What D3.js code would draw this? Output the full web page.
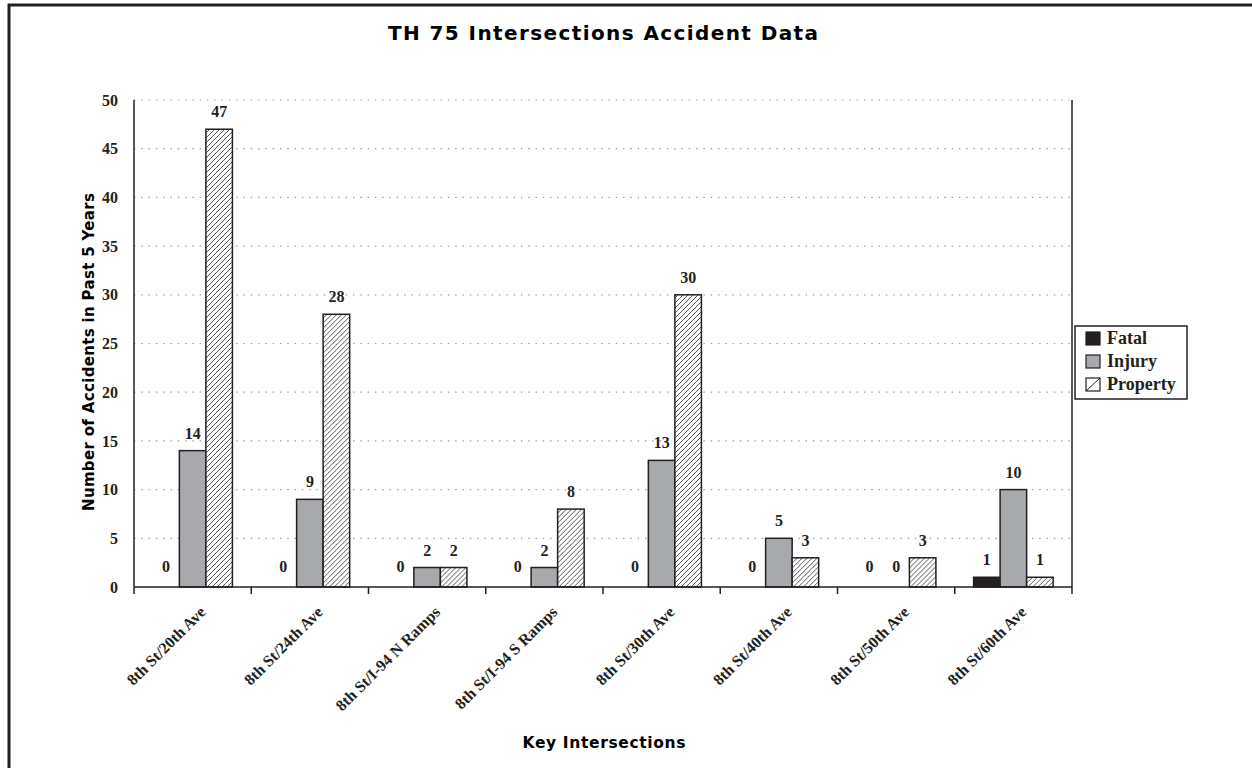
<!DOCTYPE html>
<html>
<head>
<meta charset="utf-8">
<script src="https://cdn.jsdelivr.net/npm/d3@7"></script>
<style>
  html, body { margin: 0; padding: 0; background: #fff; }
  svg { display: block; }
</style>
</head>
<body>
<svg id="chart" width="1252" height="768"></svg>
<script>
const categories = ["8th St/20th Ave", "8th St/24th Ave", "8th St/I-94 N Ramps", "8th St/I-94 S Ramps",
                    "8th St/30th Ave", "8th St/40th Ave", "8th St/50th Ave", "8th St/60th Ave"];
const seriesNames = ["Fatal", "Injury", "Property"];
const fatal    = [0, 0, 0, 0, 0, 0, 0, 1];
const injury   = [14, 9, 2, 2, 13, 5, 0, 10];
const property = [47, 28, 2, 8, 30, 3, 3, 1];
const yTicks = [0, 5, 10, 15, 20, 25, 30, 35, 40, 45, 50];
const chartTitle = "TH 75 Intersections Accident Data";
const yTitle = "Number of Accidents in Past 5 Years";
const xTitle = "Key Intersections";

const seriesValues = { Fatal: fatal, Injury: injury, Property: property };

const svg = d3.select("#chart");
const W = 1252, H = 768;
const plot = { left: 134, right: 1072, top: 100, bottom: 587 };
const dark = "#231f20";
const serif = "'Liberation Serif', 'Times New Roman', serif";
const heavy = "'DejaVu Sans', Verdana, sans-serif";

// hatch pattern
const defs = svg.append("defs");
const pat = defs.append("pattern").attr("id", "hatch")
  .attr("patternUnits", "userSpaceOnUse").attr("width", 5).attr("height", 5);
pat.append("rect").attr("width", 5).attr("height", 5).attr("fill", "#fff");
pat.append("path").attr("d", "M-1,1 L1,-1 M0,5 L5,0 M4,6 L6,4")
  .attr("stroke", dark).attr("stroke-width", 0.75);

const fills = { Fatal: dark, Injury: "#a7a9ac", Property: "url(#hatch)" };

// page frame
svg.append("path").attr("d", `M9,${H + 5} V5 H${W + 5}`)
  .attr("fill", "none").attr("stroke", dark).attr("stroke-width", 3);

// scales
const x = d3.scaleBand().domain(categories).range([plot.left, plot.right]).paddingInner(0).paddingOuter(0);
const xs = d3.scaleBand().domain(seriesNames).range([0, x.bandwidth()]).paddingInner(0).paddingOuter(0.71);
const y = d3.scaleLinear().domain([0, 50]).range([plot.bottom, plot.top]);

// gridlines
svg.append("g").selectAll("line").data(yTicks.filter(d => d > 0)).join("line")
  .attr("x1", plot.left).attr("x2", plot.right)
  .attr("y1", d => y(d)).attr("y2", d => y(d))
  .attr("stroke", "#9a9a9a").attr("stroke-width", 1.2)
  .attr("stroke-dasharray", "1.4,5.9");

// y tick labels
svg.append("g").selectAll("text").data(yTicks).join("text")
  .attr("x", 118).attr("y", d => y(d)).attr("dy", "0.35em")
  .attr("text-anchor", "end")
  .attr("font-family", serif).attr("font-weight", "bold").attr("font-size", 16)
  .attr("fill", dark)
  .text(d => d);

// bars
const groups = svg.append("g").selectAll("g").data(categories).join("g")
  .attr("transform", d => `translate(${x(d)},0)`);

groups.each(function (cat, i) {
  const g = d3.select(this);
  seriesNames.forEach(s => {
    const v = seriesValues[s][i];
    if (v > 0) {
      g.append("rect")
        .attr("x", xs(s)).attr("width", xs.bandwidth())
        .attr("y", y(v)).attr("height", y(0) - y(v))
        .attr("fill", fills[s]).attr("stroke", dark).attr("stroke-width", 1.5);
    }
    g.append("text")
      .attr("x", xs(s) + xs.bandwidth() / 2)
      .attr("y", y(v) - (v > 0 ? 12 : 15))
      .attr("text-anchor", "middle")
      .attr("font-family", serif).attr("font-weight", "bold").attr("font-size", 16)
      .attr("fill", dark)
      .text(v);
  });
});

// axes lines
svg.append("line").attr("x1", plot.left).attr("x2", plot.left)
  .attr("y1", plot.top).attr("y2", plot.bottom + 7)
  .attr("stroke", dark).attr("stroke-width", 1.5);
svg.append("line").attr("x1", plot.right).attr("x2", plot.right)
  .attr("y1", plot.top).attr("y2", plot.bottom + 7)
  .attr("stroke", dark).attr("stroke-width", 1.5);
svg.append("line").attr("x1", plot.left).attr("x2", plot.right)
  .attr("y1", plot.bottom).attr("y2", plot.bottom)
  .attr("stroke", dark).attr("stroke-width", 1.5);
// category boundary ticks
svg.append("g").selectAll("line").data(categories.slice(1)).join("line")
  .attr("x1", d => x(d)).attr("x2", d => x(d))
  .attr("y1", plot.bottom).attr("y2", plot.bottom + 7)
  .attr("stroke", dark).attr("stroke-width", 1.5);

// category labels
svg.append("g").selectAll("text").data(categories).join("text")
  .attr("transform", d => `translate(${x(d) + x.bandwidth() / 2 + 14},${plot.bottom + 26}) rotate(-45)`)
  .attr("text-anchor", "end")
  .attr("font-family", serif).attr("font-weight", "bold").attr("font-size", 16)
  .attr("fill", dark)
  .text(d => d);

// titles
svg.append("text").attr("x", 603).attr("y", 40).attr("text-anchor", "middle")
  .attr("font-family", heavy).attr("font-weight", "bold").attr("font-size", 20)
  .attr("textLength", 430).attr("lengthAdjust", "spacing")
  .attr("fill", "#000").text(chartTitle);

svg.append("text").attr("x", 604).attr("y", 748).attr("text-anchor", "middle")
  .attr("font-family", heavy).attr("font-weight", "bold").attr("font-size", 15.5)
  .attr("textLength", 163).attr("lengthAdjust", "spacing")
  .attr("fill", "#000").text(xTitle);

svg.append("text").attr("transform", `translate(94,352) rotate(-90)`)
  .attr("text-anchor", "middle")
  .attr("font-family", heavy).attr("font-weight", "bold").attr("font-size", 15)
  .attr("textLength", 318).attr("lengthAdjust", "spacing")
  .attr("fill", "#000").text(yTitle);

// legend
const lg = svg.append("g").attr("transform", "translate(1075,326)");
lg.append("rect").attr("x", 0).attr("y", 0).attr("width", 112).attr("height", 73)
  .attr("fill", "#fff").attr("stroke", dark).attr("stroke-width", 1.5);
const rows = lg.selectAll("g").data(seriesNames).join("g")
  .attr("transform", (d, i) => `translate(11,${12 + i * 23})`);
rows.append("rect").attr("x", 0).attr("y", -6).attr("width", 14).attr("height", 13)
  .attr("fill", d => d === "Property" ? "#fff" : fills[d])
  .attr("stroke", dark).attr("stroke-width", 1.2);
rows.filter(d => d === "Property").append("line")
  .attr("x1", 0).attr("y1", 7).attr("x2", 14).attr("y2", -6)
  .attr("stroke", dark).attr("stroke-width", 1);
rows.append("text").attr("x", 21).attr("y", 0).attr("dy", "0.35em")
  .attr("font-family", serif).attr("font-weight", "bold").attr("font-size", 18)
  .attr("fill", dark).text(d => d);
</script>
</body>
</html>
